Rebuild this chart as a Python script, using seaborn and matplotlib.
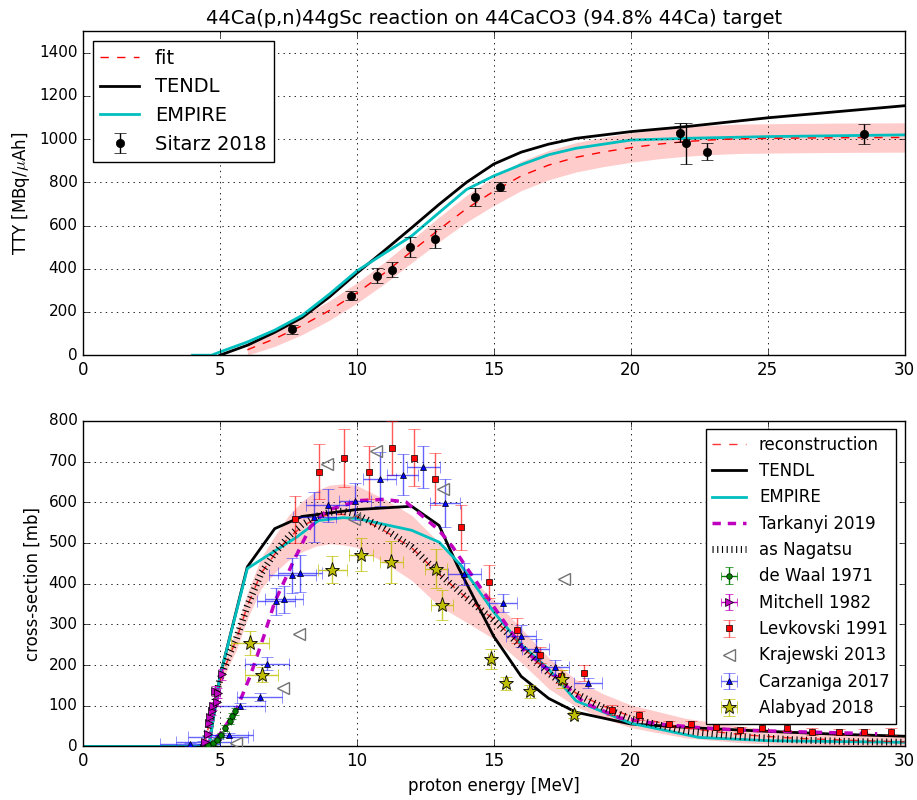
import matplotlib
matplotlib.use("Agg")
import matplotlib.pyplot as plt
from matplotlib import font_manager
import numpy as np
import seaborn as sns

# ---- top panel: thick target yield ----
fit_e = [6, 7, 8, 9, 10, 11, 12, 13, 14, 15, 16, 17, 18, 19, 20, 21, 22, 23, 24, 26, 28, 30]
fit_tty = [25, 76, 137, 207, 288, 380, 481, 582, 678, 759, 830, 880, 916, 941, 961, 977, 989,
           997, 1002, 1005, 1007, 1008]
fit_unc = [30, 35, 42, 45, 47, 50, 53, 57, 62, 66, 68, 68, 68, 68, 68, 68, 68, 68, 68, 68, 68, 68]

tendl_top_e = [5, 6, 7, 8, 9, 10, 11, 12, 13, 14, 15, 16, 17, 18, 20, 22, 25, 30]
tendl_top = [0, 46, 106, 174, 270, 380, 484, 590, 698, 800, 885, 940, 977, 1004, 1035, 1058, 1099, 1155]

empire_top_e = [4, 4.7, 5, 6, 7, 8, 9, 10, 11, 12, 13, 14, 15, 16, 17, 18, 20, 22, 25, 30]
empire_top = [0, 0, 15, 61, 116, 184, 283, 390, 471, 552, 660, 767, 830, 882, 928, 958, 996, 1004,
              1012, 1020]

sitarz_e = [7.63, 9.77, 10.73, 11.3, 11.93, 12.85, 14.33, 15.22, 21.8, 22.03, 22.8, 28.5]
sitarz_tty = [119, 276, 368, 395, 501, 539, 733, 781, 1030, 981, 943, 1024]
sitarz_err = [20, 22, 35, 35, 45, 45, 40, 20, 45, 95, 40, 48]

# ---- bottom panel: cross sections ----
rec_e = [4.4, 4.7, 5.0, 5.3, 5.6, 6.0, 6.5, 7.0, 7.5, 8.0, 8.5, 9.0, 9.5, 10.0, 11.0, 12.0, 13.0,
         14.0, 15.0, 16.0, 17.0, 18.0, 19.0, 20.0, 22.0, 24.0, 26.0, 28.0, 30.0]
rec_xs = [0, 80, 160, 215, 262, 345, 425, 472, 512, 540, 560, 570, 570, 565, 530, 488, 423, 365, 312,
          248, 180, 131, 99, 74, 45, 29, 20, 15, 11]
rec_unc = [0, 8, 15, 20, 25, 32, 38, 45, 55, 62, 68, 72, 75, 76, 78, 80, 78, 60, 48, 42, 38, 33, 30,
           28, 24, 20, 17, 15, 14]

nag_e = [4.4, 4.7, 5.0, 5.3, 5.6, 6.0, 6.5, 7.0, 7.5, 8.0, 8.5, 9.0, 9.5, 10.0, 11.0, 12.0, 13.0,
         14.0, 15.0, 16.0, 17.0, 18.0, 19.0, 20.0, 22.0, 24.0, 26.0, 28.0, 30.0]
nag_xs = [0, 80, 165, 220, 265, 345, 425, 475, 515, 545, 565, 575, 578, 570, 535, 490, 425, 365, 310,
          245, 180, 130, 95, 68, 38, 24, 16, 12, 10]

tendl_e = [0, 4.6, 5.0, 6.0, 7.0, 8.0, 10.0, 12.0, 13.0, 13.7, 15.0, 16.0, 17.0, 18.0, 20.0, 22.5,
           25.0, 27.5, 30.0]
tendl_xs = [0, 0, 172, 441, 535, 565, 582, 590, 543, 440, 270, 172, 118, 84, 55, 45, 37, 30, 25]

empire_e = [0, 4.6, 5.0, 6.0, 7.0, 7.8, 8.6, 9.5, 10.0, 12.0, 13.0, 13.8, 15.0, 16.0, 17.0, 18.0,
            20.0, 22.5, 25.0, 30.0]
empire_xs = [0, 0, 172, 437, 480, 514, 555, 562, 560, 531, 502, 445, 330, 250, 190, 112, 57, 22, 14, 10]

tark_e = [4.4, 5.0, 5.6, 6.1, 6.6, 7.0, 7.7, 8.3, 8.9, 10.1, 11.0, 11.8, 13.0, 13.5, 14.0, 15.0, 16.1,
          17.4, 18.3, 19.6, 21.0, 22.5, 24.0, 26.0, 29.0]
tark_xs = [0, 30, 90, 172, 270, 355, 457, 539, 580, 604, 607, 600, 531, 490, 440, 343, 237, 164, 107,
           70, 55, 46, 40, 36, 31]

dewaal_e = [4.55, 4.75, 4.9, 5.05, 5.2, 5.35, 5.45, 5.55]
dewaal_xs = [3, 8, 15, 28, 45, 62, 75, 86]
dewaal_err = [3, 4, 5, 6, 7, 7, 8, 8]

mitchell_e = [4.45, 4.55, 4.6, 4.65, 4.7, 4.75, 4.82, 4.88, 4.94, 5.06]
mitchell_xs = [10, 30, 57, 72, 88, 100, 137, 110, 131, 177]
mitchell_err = [5, 6, 8, 8, 10, 10, 12, 10, 12, 14]

levk_e = [7.74, 8.62, 9.53, 10.44, 11.3, 12.1, 12.85, 13.82, 14.82, 15.83, 16.7, 17.45, 18.3, 19.3,
          20.3, 21.4, 22.2, 23.1, 24.0, 24.8, 25.7, 26.6, 27.6, 28.5, 29.5]
levk_xs = [558, 675, 709, 674, 733, 709, 657, 538, 405, 285, 225, 172, 180, 90, 76, 55, 54, 48, 40,
           46, 46, 36, 35, 35, 36]
levk_err = [58, 68, 71, 65, 67, 70, 65, 55, 41, 30, 20, 15, 20, 12, 10, 8, 8, 8, 8, 8, 8, 8, 8, 8, 8]

kraj_e = [5.6, 7.3, 7.9, 8.9, 9.9, 10.7, 13.15, 17.55]
kraj_xs = [9, 143, 276, 694, 559, 726, 632, 412]

carz_e = [3.9, 4.4, 4.94, 5.32, 5.73, 6.46, 6.73, 7.05, 7.34, 7.64, 7.92, 8.45, 8.93, 9.93, 10.83,
          11.67, 12.42, 13.23, 13.93, 15.34, 16.0, 16.53, 17.23, 18.44]
carz_xs = [5, 10, 22, 29, 99, 121, 203, 357, 361, 420, 425, 563, 592, 602, 657, 668, 686, 597, 424,
           353, 271, 239, 194, 155]
carz_xerr = [1.1, 1.0, 1.1, 0.9, 0.9, 0.82, 0.8, 0.7, 0.7, 0.85, 0.8, 0.8, 0.8, 0.6, 0.6, 0.58, 0.6,
             0.55, 0.6, 0.52, 0.55, 0.5, 0.5, 0.5]
carz_yerr = [4, 4, 5, 5, 8, 10, 16, 33, 33, 44, 45, 61, 41, 45, 67, 51, 51, 59, 27, 22, 27, 24, 19, 12]

alab_e = [6.09, 6.52, 9.11, 10.15, 11.26, 12.89, 13.12, 14.9, 15.43, 16.33, 17.5, 17.91]
alab_xs = [254, 176, 434, 471, 453, 437, 347, 214, 155, 136, 165, 77]
alab_xerr = [0.7, 0.6, 0.52, 0.43, 0.42, 0.4, 0.4, 0.1, 0.1, 0.1, 0.1, 0.1]
alab_yerr = [29, 18, 33, 41, 52, 47, 37, 25, 16, 16, 22, 8]

# ---- style: old matplotlib look ----
plt.style.use("classic")
plt.rcParams["font.family"] = ["DejaVu Sans"]
plt.rcParams["lines.scale_dashes"] = False
plt.rcParams["xtick.labelsize"] = 11
plt.rcParams["ytick.labelsize"] = 11

names = {f.name for f in font_manager.fontManager.ttflist}
narrow = {"family": "Liberation Sans Narrow"} if "Liberation Sans Narrow" in names else {}

fig = plt.figure(figsize=(9.17, 8), dpi=100)
ax1 = fig.add_axes([0.0905, 0.556, 0.896, 0.405])
ax2 = fig.add_axes([0.0905, 0.067, 0.896, 0.407])

# top
fit_e_a = np.array(fit_e)
fit_a = np.array(fit_tty)
unc_a = np.array(fit_unc)
ax1.fill_between(fit_e_a, np.clip(fit_a - unc_a, 0, None), fit_a + unc_a, color="r", alpha=0.2,
                 lw=0, zorder=1)
sns.lineplot(x=fit_e, y=fit_tty, ax=ax1, color="r", lw=1, linestyle=(0, (6, 6)),
             sort=False, estimator=None, label="fit", zorder=3)
sns.lineplot(x=tendl_top_e, y=tendl_top, ax=ax1, color="k", lw=2, sort=False, estimator=None,
             label="TENDL", zorder=2)
sns.lineplot(x=empire_top_e, y=empire_top, ax=ax1, color="c", lw=2, sort=False, estimator=None,
             label="EMPIRE", zorder=2)
ax1.errorbar(sitarz_e, sitarz_tty, yerr=sitarz_err, fmt="o", color="k", ms=6, capsize=4,
             label="Sitarz 2018", zorder=4)
ax1.set_xlim(0, 30)
ax1.set_ylim(0, 1500)
ax1.set_yticks(range(0, 1401, 200))
ax1.grid(True, linestyle=":", color="k", lw=0.6)
ax1.set_ylabel(r"TTY [MBq/$\mu$Ah]", fontsize=12)
ax1.set_title("44Ca(p,n)44gSc reaction on 44CaCO3 (94.8% 44Ca) target", fontsize=14, **narrow)
ax1.legend(loc="upper left", fontsize=14, numpoints=1, fancybox=False)
for lab in ax1.get_xticklabels():
    lab.set(**narrow)
    lab.set_fontsize(12)

# bottom
rec_e_a = np.array(rec_e)
rec_a = np.array(rec_xs)
runc_a = np.array(rec_unc)
ax2.fill_between(rec_e_a, np.clip(rec_a - runc_a, 0, None), rec_a + runc_a, color="r", alpha=0.2,
                 lw=0, zorder=1)
sns.lineplot(x=rec_e, y=rec_xs, ax=ax2, color="r", lw=1, linestyle=(0, (6, 6)), alpha=0.8,
             sort=False, estimator=None, label="reconstruction", zorder=3)
sns.lineplot(x=tendl_e, y=tendl_xs, ax=ax2, color="k", lw=2, sort=False, estimator=None,
             label="TENDL", zorder=2)
sns.lineplot(x=empire_e, y=empire_xs, ax=ax2, color="c", lw=2, sort=False, estimator=None,
             label="EMPIRE", zorder=2)
sns.lineplot(x=tark_e, y=tark_xs, ax=ax2, color="m", lw=2.5, linestyle=(0, (6, 5)),
             sort=False, estimator=None, label="Tarkanyi 2019", zorder=3)
sns.lineplot(x=nag_e, y=nag_xs, ax=ax2, color="k", lw=5, linestyle=(0, (0.8, 2.6)),
             sort=False, estimator=None, label="as Nagatsu", zorder=3)

ax2.errorbar(dewaal_e, dewaal_xs, yerr=dewaal_err, xerr=0.05, fmt="o", color="g", ms=4, mec="k",
             mew=0.5, ecolor="g", capsize=3, label="de Waal 1971", zorder=5)
ax2.errorbar(mitchell_e, mitchell_xs, yerr=mitchell_err, xerr=0.05, fmt=">", color="m", ms=6,
             mec="k", mew=0.5, ecolor="m", capsize=3, label="Mitchell 1982", zorder=5)
ax2.errorbar(levk_e, levk_xs, yerr=levk_err, fmt="s", color="r", ms=4, mec="k", mew=0.5,
             ecolor=(1, 0, 0, 0.65), capsize=4, label="Levkovski 1991", zorder=4)
ax2.errorbar(kraj_e, kraj_xs, fmt="<", ms=9, mfc="none", mec="0.45", mew=1,
             label="Krajewski 2013", zorder=4)
ax2.errorbar(carz_e, carz_xs, yerr=carz_yerr, xerr=carz_xerr, fmt="^", color="b", ms=5, mec="k",
             mew=0.5, ecolor=(0, 0, 1, 0.6), capsize=4, label="Carzaniga 2017", zorder=4)
ax2.errorbar(alab_e, alab_xs, yerr=alab_yerr, xerr=alab_xerr, fmt="*", color="y", ms=11, mec="k",
             mew=0.6, ecolor=(0.75, 0.75, 0, 0.8), capsize=4, label="Alabyad 2018", zorder=4)

ax2.set_xlim(0, 30)
ax2.set_ylim(0, 800)
ax2.set_yticks(range(0, 801, 100))
ax2.grid(True, linestyle=":", color="k", lw=0.6)
ax2.set_ylabel("cross-section [mb]", fontsize=12)
ax2.set_xlabel("proton energy [MeV]", fontsize=12, **narrow)
ax2.legend(loc="upper right", fontsize=12, numpoints=1, fancybox=False)
for lab in ax2.get_xticklabels():
    lab.set(**narrow)
    lab.set_fontsize(12)

fig.savefig("out.png", dpi=100)
